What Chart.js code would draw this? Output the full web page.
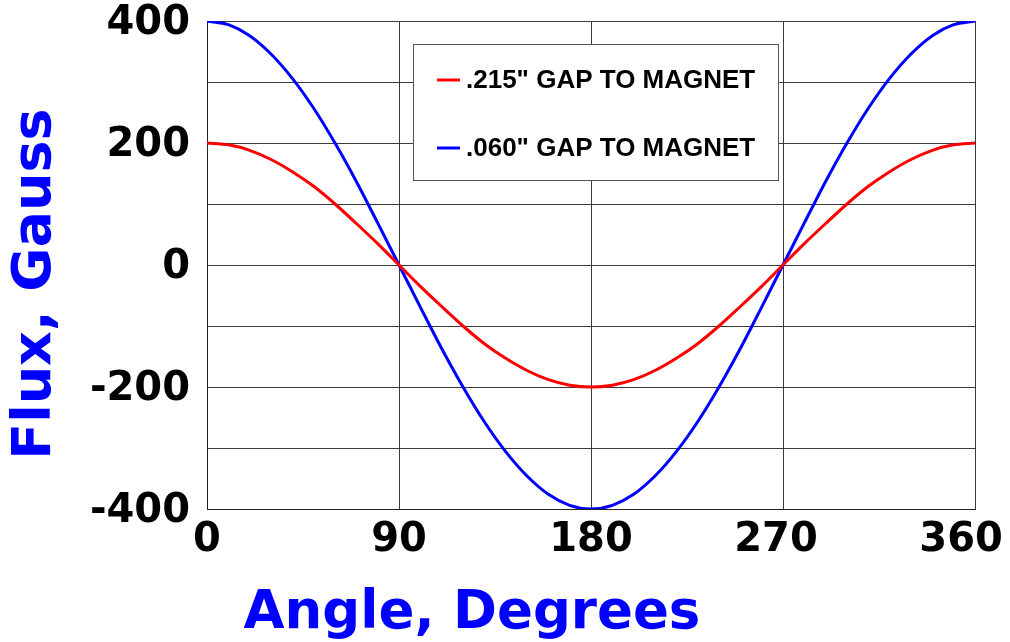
<!DOCTYPE html>
<html lang="en">
<head>
    <meta charset="UTF-8">
    <title>Flux vs Angle</title>
    <script src="https://cdn.jsdelivr.net/npm/chart.js"></script>
    <style>
        body { margin: 0; background: #ffffff; }
        #wrap { width: 1010px; height: 642px; position: relative; }
    </style>
</head>
<body>
    <div id="wrap"><canvas id="fluxChart"></canvas></div>

    <script>
        // Data (every 10 degrees)
        const angles = [0, 10, 20, 30, 40, 50, 60, 70, 80, 90, 100, 110, 120, 130, 140, 150, 160, 170, 180,
                        190, 200, 210, 220, 230, 240, 250, 260, 270, 280, 290, 300, 310, 320, 330, 340, 350, 360];
        const gap215 = [200, 197, 188, 173, 153, 129, 100, 68, 35, 0, -35, -68, -100, -129, -153, -173, -188, -197, -200,
                        -197, -188, -173, -153, -129, -100, -68, -35, 0, 35, 68, 100, 129, 153, 173, 188, 197, 200];
        const gap060 = [400, 394, 376, 346, 306, 257, 200, 137, 69, 0, -69, -137, -200, -257, -306, -346, -376, -394, -400,
                        -394, -376, -346, -306, -257, -200, -137, -69, 0, 69, 137, 200, 257, 306, 346, 376, 394, 400];
        const seriesLabels = ['.215" GAP TO MAGNET', '.060" GAP TO MAGNET'];
        const xTicks = [0, 90, 180, 270, 360];
        const yLabelled = [-400, -200, 0, 200, 400];

        const tickFont = { family: 'DejaVu Sans', size: 40, weight: 'bold' };

        // legend box + axis titles drawn on top
        const extras = {
            id: 'extras',
            afterDraw(chart) {
                const ctx = chart.ctx;
                ctx.save();

                // legend
                ctx.fillStyle = '#ffffff';
                ctx.fillRect(413.5, 44.5, 365, 136);
                ctx.strokeStyle = '#555555';
                ctx.lineWidth = 1;
                ctx.strokeRect(413.5, 44.5, 365, 136);
                ctx.font = 'bold 26px "Liberation Sans", Arial, sans-serif';
                ctx.textBaseline = 'middle';
                ctx.textAlign = 'left';
                const rows = [80, 148];
                chart.data.datasets.forEach((ds, i) => {
                    ctx.strokeStyle = ds.borderColor;
                    ctx.lineWidth = 3;
                    ctx.beginPath();
                    ctx.moveTo(437, rows[i]);
                    ctx.lineTo(460, rows[i]);
                    ctx.stroke();
                    ctx.fillStyle = '#000000';
                    ctx.fillText(ds.label, 466, rows[i] + 1);
                });

                // axis titles
                ctx.fillStyle = '#0000ff';
                ctx.font = 'bold 53px "DejaVu Sans", sans-serif';
                ctx.textAlign = 'center';
                ctx.textBaseline = 'alphabetic';
                ctx.fillText('Angle, Degrees', 472, 628);

                ctx.translate(50, 284);
                ctx.rotate(-Math.PI / 2);
                ctx.font = 'bold 54px "DejaVu Sans", sans-serif';
                ctx.fillText('Flux, Gauss', 0, 0);
                ctx.restore();
            }
        };

        new Chart(document.getElementById('fluxChart'), {
            type: 'line',
            data: {
                labels: angles,
                datasets: [
                    {
                        label: seriesLabels[0],
                        data: angles.map((a, i) => ({ x: a, y: gap215[i] })),
                        borderColor: '#ff0000',
                        borderWidth: 3,
                        pointRadius: 0,
                        tension: 0.3,
                        fill: false
                    },
                    {
                        label: seriesLabels[1],
                        data: angles.map((a, i) => ({ x: a, y: gap060[i] })),
                        borderColor: '#0000ff',
                        borderWidth: 3,
                        pointRadius: 0,
                        tension: 0.3,
                        fill: false
                    }
                ]
            },
            options: {
                responsive: true,
                maintainAspectRatio: false,
                devicePixelRatio: 1,
                animation: false,
                layout: { padding: { left: 0, top: 21, right: 35, bottom: 0 } },
                plugins: {
                    legend: { display: false },
                    tooltip: { enabled: false }
                },
                scales: {
                    x: {
                        type: 'linear',
                        min: 0,
                        max: 360,
                        afterBuildTicks: s => { s.ticks = xTicks.map(v => ({ value: v })); },
                        afterFit: s => { s.height = 133; s.paddingLeft = 0; s.paddingRight = 0; },
                        ticks: {
                            autoSkip: false,
                            maxRotation: 0,
                            padding: 8,
                            color: '#000000',
                            font: tickFont,
                            // the last labels sit a little left of their grid lines in the original
                            callback: v => v === 360 ? v + '  ' : (v === 270 ? v + ' ' : String(v))
                        },
                        grid: { color: '#3a3a3a', lineWidth: 1, drawTicks: false },
                        border: { color: '#222222', width: 1 }
                    },
                    y: {
                        min: -400,
                        max: 400,
                        afterFit: s => { s.width = 207; s.paddingTop = 0; s.paddingBottom = 0; },
                        ticks: {
                            stepSize: 100,
                            padding: 17,
                            labelOffset: 3,
                            color: '#000000',
                            font: tickFont,
                            callback: v => yLabelled.includes(v) ? String(v) : ''
                        },
                        grid: { color: '#3a3a3a', lineWidth: 1, drawTicks: false },
                        border: { color: '#222222', width: 1 }
                    }
                }
            },
            plugins: [extras]
        });
    </script>
</body>
</html>
